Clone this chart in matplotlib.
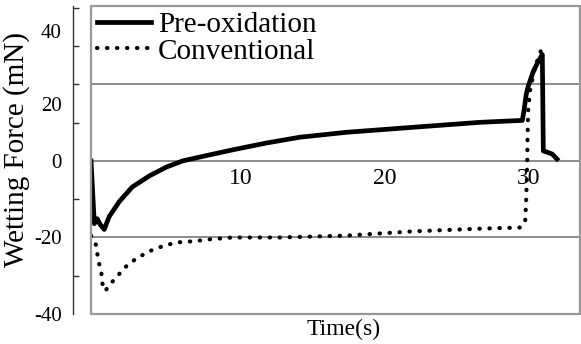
import matplotlib

matplotlib.use("Agg")

import matplotlib.pyplot as plt
import numpy as np
from matplotlib.patches import Rectangle

plt.rcParams["font.family"] = ["Liberation Serif", "DejaVu Serif"]

# wetting balance curves
pre_t = [-0.4, -0.17, 0.03, 0.24, 0.52, 0.87, 1.57, 2.47, 3.66, 4.84, 5.96, 7.14,
         9.44, 11.81, 14.11, 17.39, 21.99, 26.66, 29.59, 29.72, 29.86, 30.0, 30.35,
         30.7, 30.98, 31.05, 31.32, 31.67, 32.0]
pre_f = [0.0, -16.4, -15.1, -16.6, -17.9, -14.5, -10.6, -6.8, -3.9, -1.6, 0.0, 1.0,
         2.9, 4.7, 6.2, 7.5, 8.8, 10.1, 10.6, 13.5, 17.4, 19.5, 23.4,
         26.0, 27.8, 2.6, 2.3, 1.8, 0.5]

conv_t = [-0.4, -0.03, 0.10, 0.31, 0.38, 0.59, 0.87, 1.43, 2.06, 2.75, 3.66, 4.56,
          5.54, 6.66, 7.84, 9.44, 11.32, 12.72, 17.39, 21.99, 26.66, 29.44, 29.79,
          29.86, 29.93, 29.95, 30.0, 30.14, 30.49, 30.70, 30.91]
conv_f = [-19.5, -22.1, -26.0, -28.8, -31.9, -34.0, -32.5, -30.1, -27.5, -25.5, -23.6, -22.3,
          -21.3, -21.0, -20.5, -20.0, -20.0, -20.0, -19.5, -18.4, -17.7, -17.4, -15.8,
          -9.9, -1.3, 5.7, 13.5, 18.7, 24.7, 27.0, 29.1]

series_names = ["Pre-oxidation", "Conventional"]
x_ticks = [10, 20, 30]
y_grid = [-20, 0, 20]
y_minor = np.arange(-40, 41, 10)
# the printed labels sit off their gridlines in the original
y_label_pos = [-40, -20, 0, 15, 34]
y_label_txt = ["-40", "-20", "0", "20", "40"]

fig = plt.figure(figsize=(5.81, 3.44), dpi=100)
ax = fig.add_axes([91 / 581, 30 / 344, 489 / 581, 308 / 344])

for y in y_grid:
    ax.axhline(y, color="#8c8c8c", lw=1.4, zorder=1)

ax.plot(conv_t, conv_f, color="black", lw=3.0, ls=(0, (0.1, 2.3)),
        dash_capstyle="round", label=series_names[1], zorder=3)
ax.plot(pre_t, pre_f, color="black", lw=3.4, solid_joinstyle="round",
        label=series_names[0], zorder=4)

ax.set_xlim(-0.4, 33.6)
ax.set_ylim(-40, 40.5)

for side in ("top", "right", "bottom"):
    ax.spines[side].set_visible(False)
ax.spines["left"].set_position(("outward", 13))
ax.spines["left"].set_color("#333333")
ax.spines["left"].set_linewidth(1.0)
ax.add_patch(Rectangle((0, 0), 1, 1, transform=ax.transAxes, fill=False,
                       edgecolor="#999999", lw=1.6, clip_on=False, zorder=5))

ax.set_xticks([])
ax.set_yticks(y_label_pos)
ax.set_yticklabels(y_label_txt)
ax.set_yticks(y_minor, minor=True)
ax.tick_params(axis="y", which="major", length=0, pad=8, labelsize=15)
ax.tick_params(axis="y", which="minor", direction="in", length=4, width=1,
               color="#333333")

zero_frac = (0 - (-40)) / 80.5
sec = ax.secondary_xaxis(zero_frac)
sec.set_xticks(x_ticks)
sec.tick_params(length=0, pad=5, labelsize=17)
sec.spines["bottom"].set_visible(False)

ax.set_xlabel("Time(s)", fontsize=17)
ax.xaxis.set_label_coords(0.517, -0.015)
ax.set_ylabel("Wetting Force (mN)", fontsize=21)
ax.yaxis.set_label_coords(-0.124, 0.535)

handles, labels = ax.get_legend_handles_labels()
ax.legend(handles[::-1], labels[::-1], loc="upper left", bbox_to_anchor=(0, 1),
          frameon=False, fontsize=21, handlelength=1.85, handletextpad=0.25,
          borderaxespad=0.0, borderpad=0.2, labelspacing=0.0)

fig.savefig("out.png", dpi=100)
